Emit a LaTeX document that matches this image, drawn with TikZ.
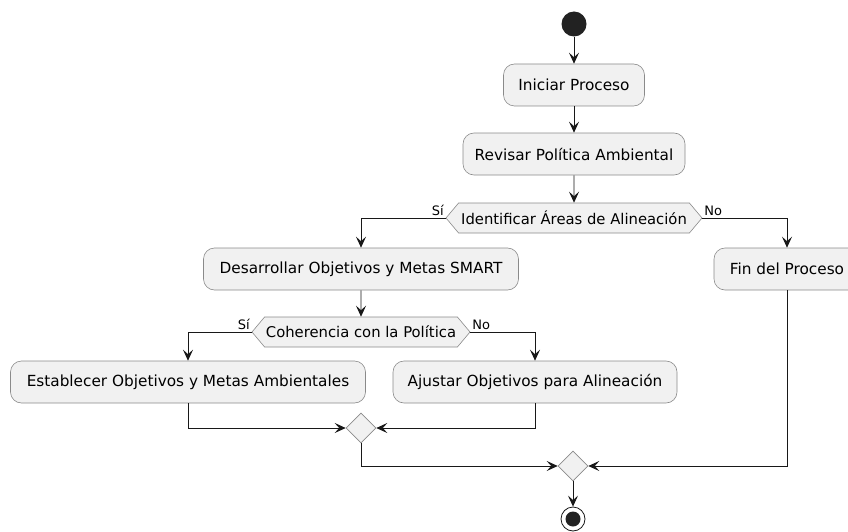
\documentclass[tikz,border=0pt]{standalone}
\usepackage{fontspec}
\setmainfont{DejaVu Sans}
\usetikzlibrary{arrows.meta, shapes.geometric, shapes.symbols}
\definecolor{cFill}  {HTML}{F1F1F1}
\definecolor{cBorder}{HTML}{8A8A8A}
\definecolor{cLine}  {HTML}{181818}
\definecolor{cDot}   {HTML}{222222}

\begin{document}
\begin{tikzpicture}[x=1pt, y=-1pt,
    act/.style={draw=cBorder, fill=cFill, rounded corners=11pt, line width=0.6pt,
      minimum height=42pt, inner sep=0pt, font=\fontsize{15.3}{18}\selectfont},
    test/.style={signal, signal to=west and east, signal pointer angle=100,
      draw=cBorder, fill=cFill, line width=0.6pt, minimum height=30pt, inner sep=0pt,
      font=\fontsize{14.8}{17}\selectfont},
    merge/.style={diamond, draw=cBorder, fill=cFill, line width=0.6pt,
      minimum size=30pt, inner sep=0pt},
    flow/.style={draw=cLine, line width=0.8pt,
      -{Stealth[length=11pt, width=10pt, inset=4.5pt]}},
    lbl/.style={font=\fontsize{13}{15}\selectfont, inner sep=1.5pt},
  ]
  \useasboundingbox (0,0) rectangle (848,532);

  % start and main column
  \node[circle, fill=cDot, minimum size=25pt, inner sep=0pt] (start) at (574,24) {};
  \node[act, minimum width=141pt] (init) at (574,85) {Iniciar Proceso};
  \node[act, minimum width=222pt] (rev) at (574,154) {Revisar Política Ambiental};
  \node[test, minimum width=256pt] (q1) at (574,218) {Identificar Áreas de Alineación};

  % first branch
  \node[act, minimum width=315pt] (dev) at (361,269) {Desarrollar Objetivos y Metas SMART};
  \node[act, minimum width=146pt] (fin) at (787,269) {Fin del Proceso};
  \node[test, minimum width=218pt] (q2) at (361,332) {Coherencia con la Política};

  % second branch
  \node[act, minimum width=355pt] (est) at (188,382) {Establecer Objetivos y Metas Ambientales};
  \node[act, minimum width=284pt] (adj) at (535,382) {Ajustar Objetivos para Alineación};

  % merges and stop
  \node[merge] (m1) at (361,428) {};
  \node[merge] (m2) at (573,466) {};
  \node[circle, draw=cLine, fill=white, line width=0.8pt, minimum size=24pt, inner sep=0pt] (stop) at (573,519) {};
  \fill[cDot] (stop.center) circle (7.5pt);

  \draw[flow] (start) -- (init);
  \draw[flow] (init) -- (rev);
  \draw[flow] (rev) -- (q1);
  \draw[flow] (q1.west) node[lbl, above left] {Sí} -| (dev.north);
  \draw[flow] (q1.east) node[lbl, above right] {No} -| (fin.north);
  \draw[flow] (dev) -- (q2);
  \draw[flow] (q2.west) node[lbl, above left] {Sí} -| (est.north);
  \draw[flow] (q2.east) node[lbl, above right] {No} -| (adj.north);
  \draw[flow] (est.south) |- (m1.west);
  \draw[flow] (adj.south) |- (m1.east);
  \draw[flow] (m1.south) |- (m2.west);
  \draw[flow] (fin.south) |- (m2.east);
  \draw[flow] (m2) -- (stop);
\end{tikzpicture}
\end{document}
